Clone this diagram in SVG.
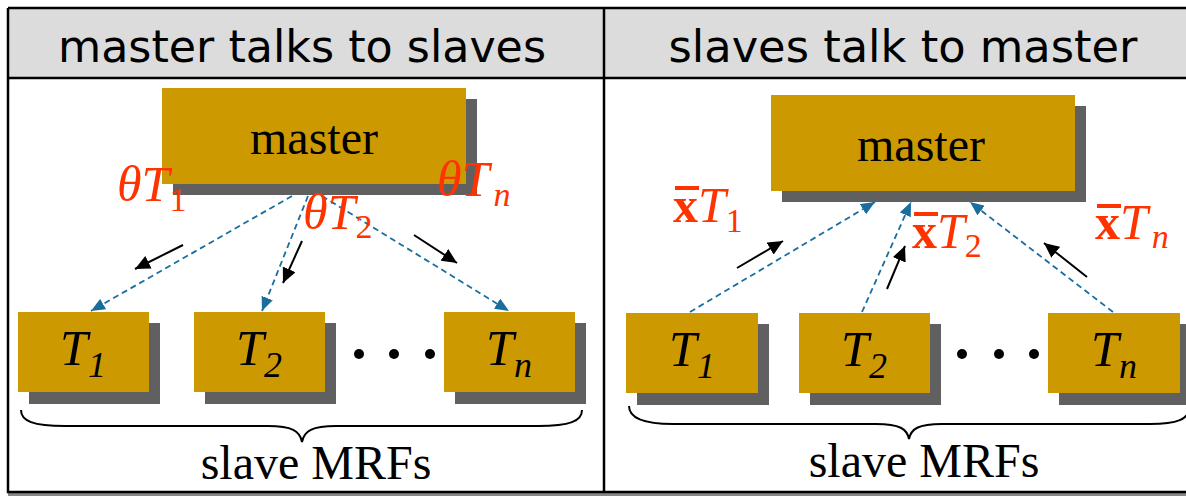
<svg xmlns="http://www.w3.org/2000/svg" width="1186" height="496" viewBox="0 0 1186 496">
<defs>
<style>
.hdr{fill:#dcdcdc;stroke:none}
.frame{fill:none;stroke:#000;stroke-width:2.5}
.title{font-family:"Comic Sans MS","DejaVu Sans",sans-serif;font-size:44px;fill:#000}
.box{fill:#cc9900}
.shadow{fill:#606060}
.lbl{font-family:"Liberation Serif",serif;font-size:48px;fill:#000}
.tl{font-family:"Liberation Serif",serif;font-style:italic;font-size:50px;fill:#000}
.sub{font-size:36px}
.red{font-family:"Liberation Serif",serif;font-size:50px;fill:#ff3300;font-style:italic}
.bx{font-style:normal;font-weight:bold}
.rsub{font-size:34px;font-style:normal}
.rsubi{font-size:34px;font-style:italic}
.blue{stroke:#1a6e9e;stroke-width:1.8;stroke-dasharray:6,4;fill:none}
.blk{stroke:#000;stroke-width:2;fill:none}
.brace{stroke:#000;stroke-width:2;fill:none}
</style>
<marker id="bh" markerUnits="userSpaceOnUse" markerWidth="16" markerHeight="12" refX="14" refY="6" orient="auto"><path d="M0,0 L14,6 L0,12 Z" fill="#1a6e9e"/></marker>
<marker id="kh" markerUnits="userSpaceOnUse" markerWidth="16" markerHeight="14" refX="15" refY="7" orient="auto"><path d="M0,0 L15,7 L0,14 Z" fill="#000"/></marker>
</defs>
<rect x="0" y="0" width="1186" height="496" fill="#fff"/>
<g id="frame">
<rect class="hdr" x="8" y="8" width="1180" height="70"/>
<rect x="8" y="493" width="1180" height="3" fill="#888"/>
<path class="frame" d="M8,8 H1188 M8,8 V492 H1188 M8,78 H1188 M604,8 V492"/>
<text class="title" x="302" y="62" text-anchor="middle" textLength="488" lengthAdjust="spacingAndGlyphs">master talks to slaves</text>
<text class="title" x="903" y="62" text-anchor="middle" textLength="469" lengthAdjust="spacingAndGlyphs">slaves talk to master</text>
</g>
<g id="connectors">
<line class="blue" x1="292" y1="196" x2="91" y2="311" marker-end="url(#bh)"/>
<line class="blue" x1="308" y1="196" x2="262" y2="311" marker-end="url(#bh)"/>
<line class="blue" x1="322" y1="196" x2="509" y2="311" marker-end="url(#bh)"/>
<line class="blue" x1="690" y1="312" x2="875" y2="202" marker-end="url(#bh)"/>
<line class="blue" x1="862" y1="312" x2="911" y2="202" marker-end="url(#bh)"/>
<line class="blue" x1="1113" y1="312" x2="970" y2="202" marker-end="url(#bh)"/>
<line class="blk" x1="183" y1="245" x2="135" y2="269" marker-end="url(#kh)"/>
<line class="blk" x1="302" y1="241" x2="283" y2="283" marker-end="url(#kh)"/>
<line class="blk" x1="414" y1="235" x2="457" y2="263" marker-end="url(#kh)"/>
<line class="blk" x1="737" y1="268" x2="783" y2="241" marker-end="url(#kh)"/>
<line class="blk" x1="887" y1="289" x2="905" y2="246" marker-end="url(#kh)"/>
<line class="blk" x1="1087" y1="277" x2="1044" y2="243" marker-end="url(#kh)"/>
</g>
<g id="master-left">
<rect class="shadow" x="173" y="99" width="304" height="96"/>
<rect class="box" x="162" y="88" width="304" height="96"/>
<text class="lbl" x="314" y="154" text-anchor="middle">master</text>
</g>
<g id="master-right">
<rect class="shadow" x="782" y="106" width="304" height="96"/>
<rect class="box" x="771" y="95" width="304" height="96"/>
<text class="lbl" x="921" y="161" text-anchor="middle">master</text>
</g>
<g id="left-T1">
<rect class="shadow" x="29" y="323" width="131" height="81"/>
<rect class="box" x="18" y="312" width="131" height="80"/>
<text class="tl" x="83" y="365" text-anchor="middle">T<tspan class="sub" dy="12">1</tspan></text>
</g>
<g id="left-T2">
<rect class="shadow" x="205" y="323" width="131" height="81"/>
<rect class="box" x="194" y="312" width="131" height="80"/>
<text class="tl" x="259" y="365" text-anchor="middle">T<tspan class="sub" dy="12">2</tspan></text>
</g>
<g id="left-Tn">
<rect class="shadow" x="455" y="323" width="131" height="81"/>
<rect class="box" x="444" y="312" width="131" height="80"/>
<text class="tl" x="509" y="365" text-anchor="middle">T<tspan class="sub" dy="12">n</tspan></text>
</g>
<g id="right-T1">
<rect class="shadow" x="637" y="324" width="132" height="81"/>
<rect class="box" x="626" y="313" width="132" height="80"/>
<text class="tl" x="692" y="366" text-anchor="middle">T<tspan class="sub" dy="12">1</tspan></text>
</g>
<g id="right-T2">
<rect class="shadow" x="810" y="324" width="131" height="81"/>
<rect class="box" x="799" y="313" width="131" height="80"/>
<text class="tl" x="864" y="366" text-anchor="middle">T<tspan class="sub" dy="12">2</tspan></text>
</g>
<g id="right-Tn">
<rect class="shadow" x="1059" y="324" width="132" height="81"/>
<rect class="box" x="1048" y="313" width="132" height="80"/>
<text class="tl" x="1114" y="366" text-anchor="middle">T<tspan class="sub" dy="12">n</tspan></text>
</g>
<g id="dots">
<circle cx="359" cy="354" r="5"/><circle cx="394" cy="354" r="5"/><circle cx="430" cy="354" r="5"/>
<circle cx="962" cy="354" r="5"/><circle cx="999" cy="354" r="5"/><circle cx="1034" cy="354" r="5"/>
</g>
<g id="labels">
<text class="red" x="117" y="201">θT<tspan class="rsub" dy="10">1</tspan></text>
<text class="red" x="303" y="229">θT<tspan class="rsub" dy="9">2</tspan></text>
<text class="red" x="437" y="196">θT<tspan class="rsubi" dx="4" dy="10">n</tspan></text>
<rect x="675" y="186" width="24" height="4" fill="#ff3300"/>
<text class="red" x="673" y="222"><tspan class="bx">x</tspan>T<tspan class="rsub" dy="10">1</tspan></text>
<rect x="914" y="212" width="24" height="4" fill="#ff3300"/>
<text class="red" x="912" y="248"><tspan class="bx">x</tspan>T<tspan class="rsub" dy="9">2</tspan></text>
<rect x="1097" y="204" width="24" height="4" fill="#ff3300"/>
<text class="red" x="1095" y="239"><tspan class="bx">x</tspan>T<tspan class="rsubi" dx="4" dy="9">n</tspan></text>
</g>
<g id="brace-left">
<path class="brace" d="M21,410 C21,421 33,426 65,426 L268,426 C292,426 300,431 302,442 C304,431 312,426 336,426 L538,426 C570,426 582,421 582,410"/>
<text class="lbl" x="316" y="479" text-anchor="middle">slave MRFs</text>
</g>
<g id="brace-right">
<path class="brace" d="M629,406 C629,417 641,424 673,424 L876,424 C900,424 907,429 909,439 C911,429 918,424 942,424 L1150,424 C1178,424 1188,419 1190,408"/>
<text class="lbl" x="924" y="477" text-anchor="middle">slave MRFs</text>
</g>
</svg>
